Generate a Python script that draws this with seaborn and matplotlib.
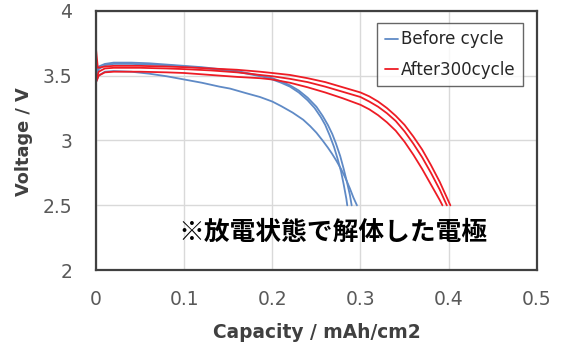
import matplotlib
matplotlib.use("Agg")
import matplotlib.pyplot as plt
import pandas as pd
import seaborn as sns

# discharge curves (capacity mAh/cm2, voltage V)
before_1_cap = [0, 0.003, 0.01, 0.02, 0.04, 0.06, 0.08, 0.10, 0.12, 0.14, 0.152, 0.17,
                0.186, 0.20, 0.21, 0.223, 0.235, 0.243, 0.25, 0.257, 0.263, 0.268,
                0.273, 0.278, 0.283, 0.288, 0.292, 0.296]
before_1_v = [3.45, 3.50, 3.53, 3.535, 3.53, 3.515, 3.495, 3.47, 3.445, 3.415, 3.40, 3.365,
              3.335, 3.30, 3.265, 3.215, 3.16, 3.11, 3.06, 3.00, 2.945, 2.895,
              2.84, 2.78, 2.71, 2.63, 2.56, 2.50]
before_2_cap = [0, 0.003, 0.01, 0.02, 0.04, 0.06, 0.08, 0.10, 0.12, 0.14, 0.16, 0.175,
                0.19, 0.20, 0.21, 0.22, 0.23, 0.24, 0.248, 0.255, 0.26, 0.265, 0.27,
                0.274, 0.278, 0.281, 0.284, 0.285]
before_2_v = [3.47, 3.55, 3.58, 3.59, 3.59, 3.585, 3.58, 3.57, 3.56, 3.545, 3.53, 3.51,
              3.49, 3.47, 3.445, 3.415, 3.37, 3.31, 3.25, 3.18, 3.12, 3.04, 2.95,
              2.86, 2.76, 2.66, 2.55, 2.50]
before_3_cap = [0, 0.003, 0.01, 0.02, 0.04, 0.06, 0.08, 0.10, 0.12, 0.14, 0.16, 0.175,
                0.19, 0.20, 0.21, 0.22, 0.23, 0.24, 0.25, 0.257, 0.263, 0.268, 0.272,
                0.277, 0.281, 0.285, 0.288, 0.290]
before_3_v = [3.52, 3.57, 3.59, 3.60, 3.60, 3.595, 3.585, 3.575, 3.565, 3.55, 3.535, 3.515,
              3.495, 3.48, 3.455, 3.425, 3.385, 3.33, 3.26, 3.19, 3.12, 3.05, 2.98,
              2.88, 2.78, 2.67, 2.58, 2.50]

after_1_cap = [0, 0.002, 0.01, 0.02, 0.05, 0.08, 0.10, 0.13, 0.16, 0.186, 0.20, 0.22,
               0.24, 0.26, 0.28, 0.30, 0.31, 0.32, 0.33, 0.34, 0.35, 0.36, 0.37,
               0.38, 0.39, 0.40, 0.402]
after_1_v = [3.70, 3.56, 3.57, 3.575, 3.575, 3.57, 3.565, 3.555, 3.545, 3.53, 3.52, 3.505,
             3.48, 3.45, 3.41, 3.37, 3.34, 3.30, 3.25, 3.19, 3.12, 3.03, 2.93,
             2.81, 2.68, 2.53, 2.50]
after_2_cap = [0, 0.003, 0.01, 0.02, 0.05, 0.08, 0.10, 0.13, 0.16, 0.186, 0.20, 0.22,
               0.24, 0.26, 0.28, 0.30, 0.31, 0.32, 0.33, 0.34, 0.35, 0.36, 0.37,
               0.38, 0.39, 0.398]
after_2_v = [3.46, 3.53, 3.555, 3.56, 3.56, 3.555, 3.55, 3.54, 3.525, 3.505, 3.495, 3.475,
             3.45, 3.415, 3.375, 3.335, 3.30, 3.26, 3.21, 3.15, 3.07, 2.975, 2.87,
             2.75, 2.62, 2.50]
after_3_cap = [0, 0.003, 0.01, 0.02, 0.05, 0.08, 0.10, 0.13, 0.16, 0.186, 0.20, 0.22,
               0.24, 0.26, 0.28, 0.30, 0.31, 0.32, 0.33, 0.34, 0.35, 0.36, 0.37,
               0.38, 0.39, 0.393]
after_3_v = [3.45, 3.50, 3.525, 3.53, 3.53, 3.525, 3.52, 3.505, 3.49, 3.48, 3.47, 3.445,
             3.41, 3.37, 3.325, 3.275, 3.24, 3.195, 3.14, 3.075, 2.99, 2.89, 2.78,
             2.66, 2.54, 2.50]

series = [
    ("Before cycle", "b1", before_1_cap, before_1_v),
    ("Before cycle", "b2", before_2_cap, before_2_v),
    ("Before cycle", "b3", before_3_cap, before_3_v),
    ("After300cycle", "a1", after_1_cap, after_1_v),
    ("After300cycle", "a2", after_2_cap, after_2_v),
    ("After300cycle", "a3", after_3_cap, after_3_v),
]

x_ticks = [0, 0.1, 0.2, 0.3, 0.4, 0.5]
y_ticks = [2, 2.5, 3, 3.5, 4]
note = "※放電状態で解体した電極"

rows = []
for group, unit, caps, volts in series:
    for c, v in zip(caps, volts):
        rows.append({"group": group, "unit": unit, "cap": c, "volt": v})
df = pd.DataFrame(rows)

sns.set_style("white")
plt.rcParams["font.family"] = ["DejaVu Sans", "Noto Sans CJK JP"]

fig = plt.figure(figsize=(5.65, 3.46), dpi=100)
ax = fig.add_axes([0.170, 0.219, 0.780, 0.750])

sns.lineplot(data=df, x="cap", y="volt", hue="group", units="unit",
             estimator=None, sort=False, hue_order=["Before cycle", "After300cycle"],
             palette=["#5f8ac6", "#ee1c25"], linewidth=1.3, ax=ax)

ax.set_xlim(0, 0.5)
ax.set_ylim(2, 4)
ax.set_xticks(x_ticks)
ax.set_xticklabels([f"{t:g}" for t in x_ticks])
ax.set_yticks(y_ticks)
ax.set_yticklabels([f"{t:g}" for t in y_ticks])
ax.grid(True, color="#d9d9d9", linewidth=1)
ax.tick_params(axis="both", width=1, color="#d9d9d9", labelsize=13.5, labelcolor="#595959")
ax.tick_params(axis="x", length=2, pad=12)
ax.tick_params(axis="y", length=6, pad=11)
for s in ax.spines.values():
    s.set_color("#404040")
    s.set_linewidth(1.6)

ax.set_xlabel("Capacity / mAh/cm2", fontsize=13.4, fontweight="bold", color="#404040", va="top")
ax.set_ylabel("Voltage / V", fontsize=12.8, fontweight="bold", color="#404040")
ax.xaxis.set_label_coords(0.5, -0.203)
ax.yaxis.set_label_coords(-0.143, 0.494)

ax.text(0.093, 2.29, note, fontsize=18.5, fontweight="bold", color="black",
        family=["Noto Sans CJK JP", "DejaVu Sans"], va="center", ha="left")

sns.move_legend(ax, "upper right", bbox_to_anchor=(0.968, 0.953), borderaxespad=0,
                title=None, frameon=True, fontsize=12, handlelength=0.8,
                handletextpad=0.15, borderpad=0.45, labelspacing=0.75, fancybox=False)
leg = ax.get_legend()
leg.get_frame().set_edgecolor("#404040")
leg.get_frame().set_linewidth(1.0)
for t in leg.get_texts():
    t.set_color("#262626")

fig.savefig("out.png", dpi=100)
